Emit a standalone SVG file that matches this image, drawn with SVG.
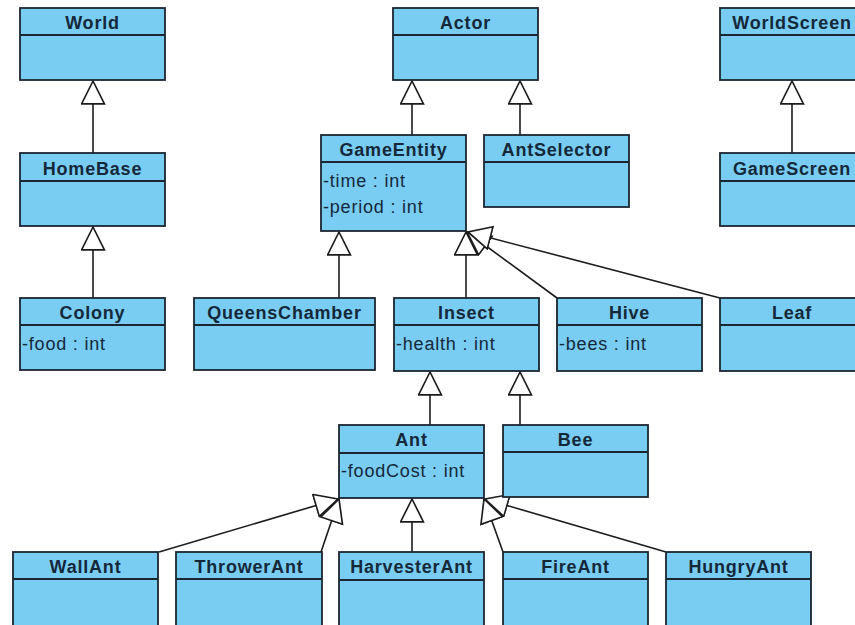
<svg xmlns="http://www.w3.org/2000/svg" width="855" height="625" viewBox="0 0 855 625">
<style>
.box{fill:#79cdf3;stroke:#1c2630;stroke-width:1.8}
.sep{stroke:#1c2630;stroke-width:1.8}
.t{font-family:"Liberation Sans",Arial,sans-serif;font-size:18px;font-weight:bold;fill:#15283a;text-anchor:middle;letter-spacing:0.8px}
.a{font-family:"Liberation Sans",Arial,sans-serif;font-size:18px;fill:#15283a;letter-spacing:0.8px}
.c{stroke:#1c1c1c;stroke-width:1.6;fill:none;marker-end:url(#gen)}
</style>
<defs>
<marker id="gen" markerUnits="userSpaceOnUse" markerWidth="26" markerHeight="26" viewBox="-1 -1 25 25" refX="22" refY="11" orient="auto">
<path d="M22,11 L0,0 L0,22 Z" fill="#ffffff" stroke="#1c1c1c" stroke-width="1.6" stroke-linejoin="miter"/>
</marker>
</defs>
<g id="connectors">
<line class="c" x1="93" y1="153" x2="93" y2="81"/>
<line class="c" x1="93" y1="298" x2="93" y2="227"/>
<line class="c" x1="412" y1="135" x2="412" y2="81"/>
<line class="c" x1="520" y1="135" x2="520" y2="81"/>
<line class="c" x1="792" y1="153" x2="792" y2="81"/>
<line class="c" x1="339" y1="298" x2="339" y2="232"/>
<line class="c" x1="466" y1="298" x2="466" y2="232"/>
<line class="c" x1="557" y1="298" x2="467" y2="232"/>
<line class="c" x1="720" y1="298" x2="468" y2="232"/>
<line class="c" x1="430" y1="425" x2="430" y2="372"/>
<line class="c" x1="520" y1="425" x2="520" y2="372"/>
<line class="c" x1="412" y1="552" x2="412" y2="499"/>
<line class="c" x1="159" y1="552" x2="338" y2="499"/>
<line class="c" x1="321" y1="552" x2="339" y2="499"/>
<line class="c" x1="503" y1="552" x2="484" y2="499"/>
<line class="c" x1="666" y1="552" x2="485" y2="499"/>
</g>
<g id="World"><rect class="box" x="20" y="8" width="145" height="72"/><line class="sep" x1="20" y1="35" x2="165" y2="35"/><text class="t" x="92.5" y="29">World</text></g>
<g id="HomeBase"><rect class="box" x="20" y="153" width="145" height="73"/><line class="sep" x1="20" y1="181" x2="165" y2="181"/><text class="t" x="92.5" y="175">HomeBase</text></g>
<g id="Colony"><rect class="box" x="20" y="298" width="145" height="72"/><line class="sep" x1="20" y1="325" x2="165" y2="325"/><text class="t" x="92.5" y="319">Colony</text><text class="a" x="22" y="350">-food : int</text></g>
<g id="Actor"><rect class="box" x="393" y="8" width="145" height="72"/><line class="sep" x1="393" y1="35" x2="538" y2="35"/><text class="t" x="465.5" y="29">Actor</text></g>
<g id="WorldScreen"><rect class="box" x="720" y="8" width="145" height="72"/><line class="sep" x1="720" y1="35" x2="865" y2="35"/><text class="t" x="792" y="29">WorldScreen</text></g>
<g id="GameEntity"><rect class="box" x="321" y="135" width="145" height="96"/><line class="sep" x1="321" y1="162" x2="466" y2="162"/><text class="t" x="393.5" y="156">GameEntity</text><text class="a" x="323" y="187">-time : int</text><text class="a" x="323" y="213">-period : int</text></g>
<g id="AntSelector"><rect class="box" x="484" y="135" width="145" height="72"/><line class="sep" x1="484" y1="162" x2="629" y2="162"/><text class="t" x="556.5" y="156">AntSelector</text></g>
<g id="GameScreen"><rect class="box" x="720" y="153" width="145" height="73"/><line class="sep" x1="720" y1="181" x2="865" y2="181"/><text class="t" x="792" y="175">GameScreen</text></g>
<g id="QueensChamber"><rect class="box" x="194" y="298" width="181" height="72"/><line class="sep" x1="194" y1="325" x2="375" y2="325"/><text class="t" x="284.5" y="319">QueensChamber</text></g>
<g id="Insect"><rect class="box" x="394" y="298" width="145" height="73"/><line class="sep" x1="394" y1="325" x2="539" y2="325"/><text class="t" x="466.5" y="319">Insect</text><text class="a" x="396" y="350">-health : int</text></g>
<g id="Hive"><rect class="box" x="557" y="298" width="145" height="73"/><line class="sep" x1="557" y1="325" x2="702" y2="325"/><text class="t" x="629.5" y="319">Hive</text><text class="a" x="559" y="350">-bees : int</text></g>
<g id="Leaf"><rect class="box" x="720" y="298" width="145" height="73"/><line class="sep" x1="720" y1="325" x2="865" y2="325"/><text class="t" x="792" y="319">Leaf</text></g>
<g id="Ant"><rect class="box" x="339" y="425" width="145" height="73"/><line class="sep" x1="339" y1="453" x2="484" y2="453"/><text class="t" x="411.5" y="446">Ant</text><text class="a" x="341" y="477">-foodCost : int</text></g>
<g id="Bee"><rect class="box" x="503" y="425" width="145" height="72"/><line class="sep" x1="503" y1="452" x2="648" y2="452"/><text class="t" x="575.5" y="446">Bee</text></g>
<g id="WallAnt"><rect class="box" x="13" y="552" width="145" height="76"/><line class="sep" x1="13" y1="579" x2="158" y2="579"/><text class="t" x="85.5" y="573">WallAnt</text></g>
<g id="ThrowerAnt"><rect class="box" x="176" y="552" width="146" height="76"/><line class="sep" x1="176" y1="579" x2="322" y2="579"/><text class="t" x="249" y="573">ThrowerAnt</text></g>
<g id="HarvesterAnt"><rect class="box" x="339" y="552" width="145" height="76"/><line class="sep" x1="339" y1="580" x2="484" y2="580"/><text class="t" x="411.5" y="573">HarvesterAnt</text></g>
<g id="FireAnt"><rect class="box" x="503" y="552" width="145" height="76"/><line class="sep" x1="503" y1="579" x2="648" y2="579"/><text class="t" x="575.5" y="573">FireAnt</text></g>
<g id="HungryAnt"><rect class="box" x="666" y="552" width="145" height="76"/><line class="sep" x1="666" y1="579" x2="811" y2="579"/><text class="t" x="738.5" y="573">HungryAnt</text></g>
</svg>
